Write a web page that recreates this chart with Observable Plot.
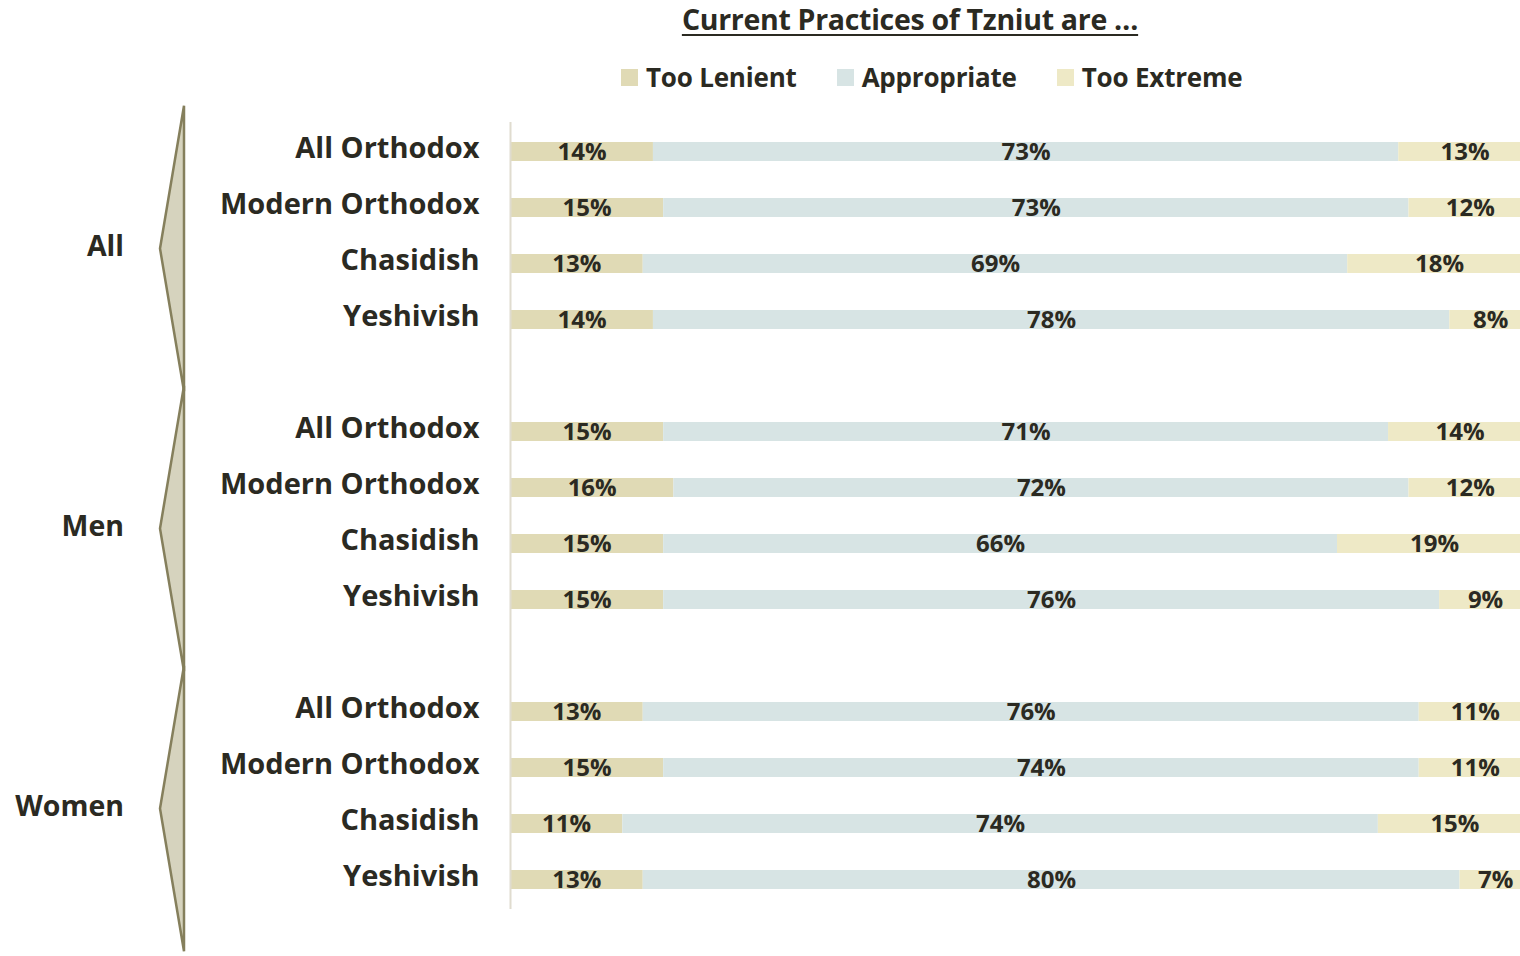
<!DOCTYPE html>
<html>
<head>
<meta charset="utf-8">
<script src="https://cdn.jsdelivr.net/npm/d3@7"></script>
<script src="https://cdn.jsdelivr.net/npm/@observablehq/plot@0.6"></script>
<style>
  html, body { margin: 0; padding: 0; background: #fff; overflow: hidden; }
  body { width: 1520px; height: 956px; font-family: "Open Sans", Lato, sans-serif; color: #2b2a22; }
  #header { position: relative; height: 100px; width: 1520px; }
  #title { position: absolute; left: 0; width: 1820px; top: 0px; text-align: center; font-size: 28.5px; font-weight: 700; text-decoration: underline; text-underline-offset: 4px; text-decoration-thickness: 2px; letter-spacing: -0.3px; }
  #legend { position: absolute; left: 621px; top: 59px; display: flex; align-items: center; font-size: 26px; font-weight: 700; letter-spacing: -0.2px; }
  .item { display: flex; align-items: center; margin-right: 40px; }
  .sw { width: 17px; height: 17px; margin-right: 8px; }
  #chart svg { display: block; }
</style>
</head>
<body>
<div id="header">
  <div id="title"></div>
  <div id="legend"></div>
</div>
<div id="chart"></div>
<script>
const title = "Current Practices of Tzniut are …";
const groups = ["All", "Men", "Women"];
const segments = ["All Orthodox", "Modern Orthodox", "Chasidish", "Yeshivish"];
const responses = ["Too Lenient", "Appropriate", "Too Extreme"];
const colors = ["#e0dab5", "#d7e4e4", "#eee9c6"];
// values in order: All (4 segments), Men (4), Women (4)
const tooLenient  = [14, 15, 13, 14, 15, 16, 15, 15, 13, 15, 11, 13];
const appropriate = [73, 73, 69, 78, 71, 72, 66, 76, 76, 74, 74, 80];
const tooExtreme  = [13, 12, 18,  8, 14, 12, 19,  9, 11, 11, 15,  7];

const series = [tooLenient, appropriate, tooExtreme];
const rows = [];
groups.forEach((g, gi) => segments.forEach((s, si) => rows.push({group: g, segment: s, key: g + "|" + s, i: gi * segments.length + si})));
const data = [];
responses.forEach((r, ri) => rows.forEach(row => data.push({...row, response: r, value: series[ri][row.i]})));

// y domain with a spacer slot between groups
const yDomain = [];
groups.forEach((g, gi) => {
  if (gi > 0) yDomain.push("gap" + gi);
  segments.forEach(s => yDomain.push(g + "|" + s));
});

document.getElementById("title").textContent = title;
const legend = document.getElementById("legend");
responses.forEach((r, i) => {
  const it = document.createElement("div"); it.className = "item";
  const sw = document.createElement("div"); sw.className = "sw"; sw.style.background = colors[i];
  const tx = document.createElement("span"); tx.textContent = r;
  it.append(sw, tx); legend.append(it);
});

const ink = "#2b2a22";
const font = "'Open Sans', Lato, sans-serif";

function brackets(index, scales) {
  const y = scales.y;
  const step = typeof y.step === "function" ? y.step() : (y(yDomain[1]) - y(yDomain[0]));
  const bw = typeof y.bandwidth === "function" ? y.bandwidth() : 0;
  const g = d3.create("svg:g");
  groups.forEach(grp => {
    const keys = segments.map(s => grp + "|" + s);
    const c = (y(keys[0]) + y(keys[keys.length - 1])) / 2 + bw / 2 + 13;
    const top = c - 2.55 * step, bot = c + 2.55 * step;
    g.append("path")
      .attr("d", `M184,${top}L160,${c}L184,${bot}Z`)
      .attr("fill", "#d6d3be").attr("stroke", "#857f5c").attr("stroke-width", 2.5)
      .attr("stroke-linejoin", "miter");
    g.append("text")
      .attr("x", 124).attr("y", c - 2).attr("dy", "0.35em")
      .attr("text-anchor", "end")
      .attr("font-size", 28.5).attr("font-weight", 700).attr("fill", ink)
      .attr("font-family", font)
      .text(grp);
  });
  return g.node();
}

const chart = Plot.plot({
  width: 1520,
  height: 856,
  marginTop: 22,
  marginBottom: 47,
  marginLeft: 510,
  marginRight: 0,
  style: {fontFamily: font, color: ink, background: "white"},
  x: {domain: [0, 100], range: [510, 1531], axis: null},
  y: {domain: yDomain, paddingInner: 0.66, paddingOuter: 0.33, axis: null},
  color: {domain: responses, range: colors},
  marks: [
    Plot.barX(data, Plot.stackX({x: "value", y: "key", z: "response", fill: "response", order: responses})),
    Plot.ruleX([0], {stroke: "#e0dccf", strokeWidth: 2}),
    Plot.text(data, Plot.stackX({x: "value", y: "key", z: "response", order: responses, text: d => d.value + "%", fontSize: 24, fontWeight: 700, fill: ink, dy: 0})),
    Plot.text(rows, {y: "key", text: "segment", frameAnchor: "left", dx: -31, dy: -3, textAnchor: "end", fontSize: 29, fontWeight: 700, fill: ink, style: "letter-spacing:-0.2px"})
  ].concat([brackets])
});
document.getElementById("chart").append(chart);
</script>
</body>
</html>
